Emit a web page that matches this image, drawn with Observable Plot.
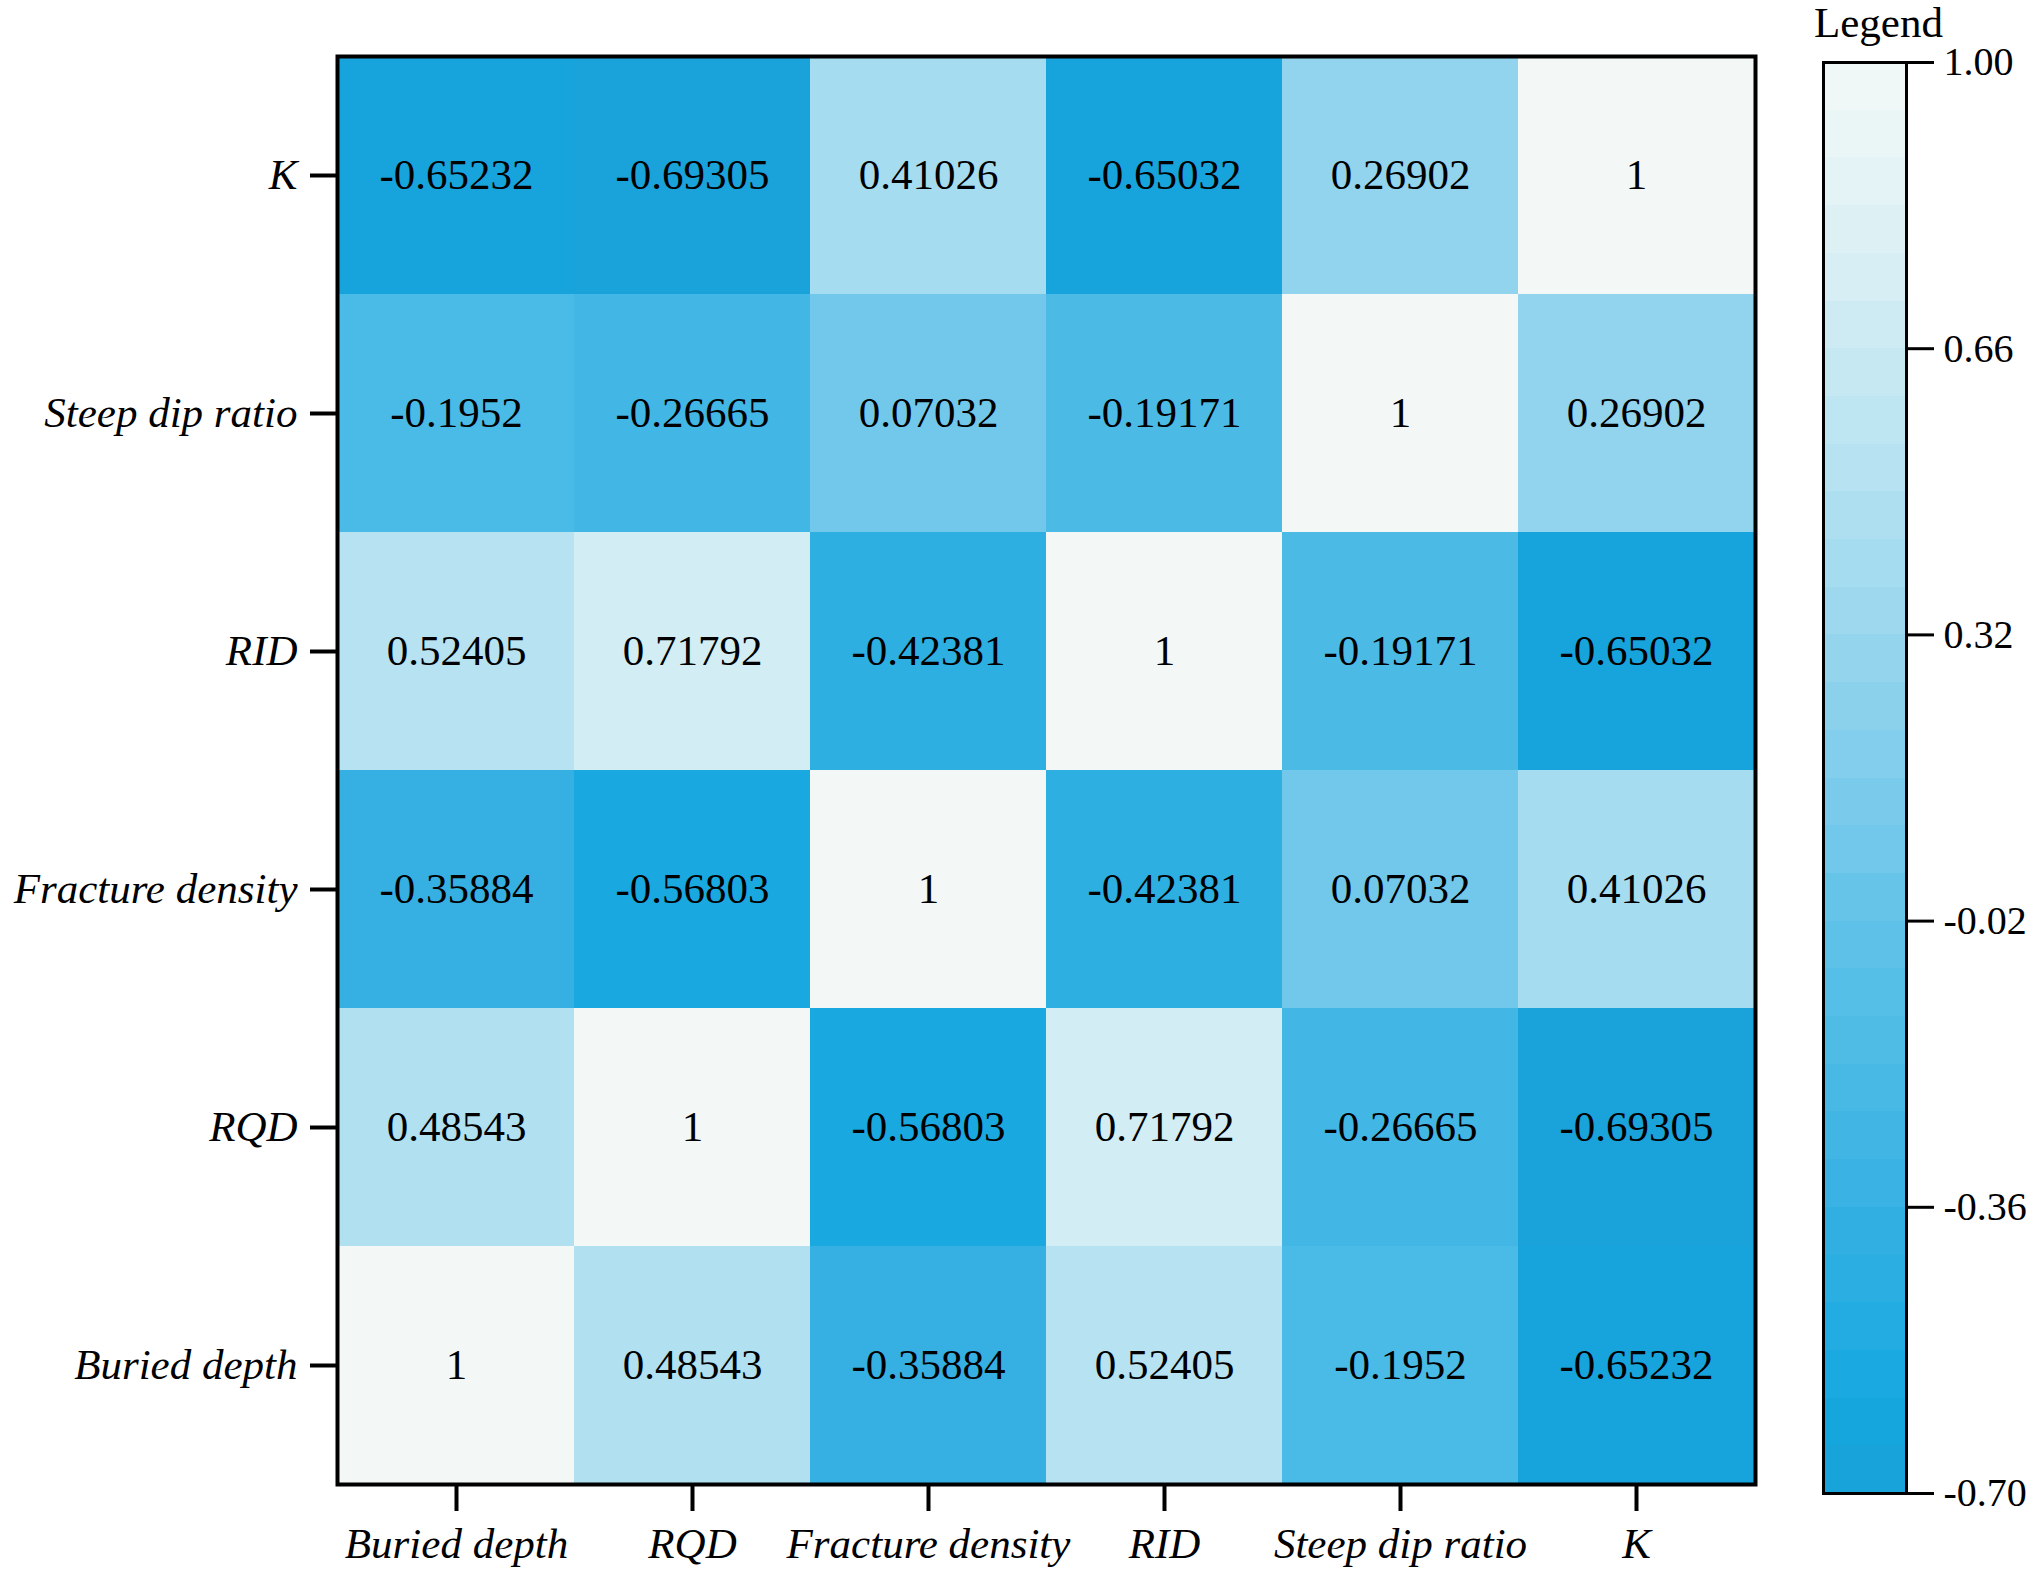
<!DOCTYPE html>
<html>
<head>
<meta charset="utf-8">
<script src="https://cdn.jsdelivr.net/npm/d3@7"></script>
<script src="https://cdn.jsdelivr.net/npm/@observablehq/plot@0.6"></script>
<style>
  html, body { margin: 0; padding: 0; background: #fff; }
  #wrap { position: relative; width: 2027px; height: 1575px; font-family: "Liberation Serif", "Times New Roman", serif; }
  #heat { position: absolute; left: 0; top: 0; }
  #bar { position: absolute; left: 1790px; top: 0; }
  #title { position: absolute; left: 1814px; top: -2px; font-size: 43px; line-height: 50px; color: #000; }
  #heat g[aria-label="x-axis tick label"] text, #heat g[aria-label="y-axis tick label"] text { font-style: italic; }
</style>
</head>
<body>
<div id="wrap">
  <div id="heat"></div>
  <div id="bar"></div>
  <div id="title">Legend</div>
</div>
<script>
// Variables (column order, left to right; row order bottom to top)
const variables = ["Buried depth", "RQD", "Fracture density", "RID", "Steep dip ratio", "K"];

// Correlation rows (one per variable, same order as columns)
const buriedDepth     = [1, 0.48543, -0.35884, 0.52405, -0.1952, -0.65232];
const rqd             = [0.48543, 1, -0.56803, 0.71792, -0.26665, -0.69305];
const fractureDensity = [-0.35884, -0.56803, 1, -0.42381, 0.07032, 0.41026];
const rid             = [0.52405, 0.71792, -0.42381, 1, -0.19171, -0.65032];
const steepDipRatio   = [-0.1952, -0.26665, 0.07032, -0.19171, 1, 0.26902];
const kRow            = [-0.65232, -0.69305, 0.41026, -0.65032, 0.26902, 1];

// Legend
const legendTicks = [1.00, 0.66, 0.32, -0.02, -0.36, -0.70];
const legendSteps = 30;

// Colour stops
const colorDomain = [-0.70, -0.60, -0.45, -0.36, -0.19, -0.02, 0.07, 0.27, 0.41, 0.52, 0.72, 0.86, 1.00];
const colorRange  = ["#1aa2da", "#14a7df", "#2aaee2", "#36b0e2", "#4bbbe6", "#60c2e8", "#72c8ea", "#92d3ed", "#a6dcf0", "#b6e2f1", "#d3edf4", "#e4f3f6", "#f3f8f7"];

const rows = [buriedDepth, rqd, fractureDensity, rid, steepDipRatio, kRow];
const cells = [];
rows.forEach((r, i) => r.forEach((v, j) => cells.push({row: variables[i], col: variables[j], value: v})));

const colorScale = {type: "linear", domain: colorDomain, range: colorRange, interpolate: "rgb", clamp: true};

const heat = Plot.plot({
  width: 1790,
  height: 1575,
  marginLeft: 337,
  marginRight: 35,
  marginTop: 56,
  marginBottom: 91,
  style: {fontFamily: "'Liberation Serif', 'Times New Roman', serif", fontSize: "43px", color: "#000", background: "#fff"},
  x: {domain: variables, padding: 0, label: null},
  y: {domain: variables.slice().reverse(), padding: 0, label: null},
  color: colorScale,
  marks: [
    Plot.cell(cells, {x: "col", y: "row", fill: "value", shapeRendering: "crispEdges"}),
    Plot.text(cells, {x: "col", y: "row", text: d => String(d.value), fill: "#000", fontSize: 43}),
    Plot.axisX({tickSize: 27, tickPadding: 16, strokeWidth: 4, fontSize: 43, label: null}),
    Plot.axisY({tickSize: 27, tickPadding: 13, strokeWidth: 4, fontSize: 43, label: null}),
    Plot.frame({stroke: "#000", strokeWidth: 4})
  ]
});
document.getElementById("heat").appendChild(heat);

const step = (legendTicks[0] - legendTicks[legendTicks.length - 1]) / legendSteps;
const bands = d3.range(legendSteps).map(i => {
  const y1 = legendTicks[legendTicks.length - 1] + i * step;
  return {y1, y2: y1 + step, mid: y1 + step / 2};
});

const bar = Plot.plot({
  width: 237,
  height: 1575,
  marginLeft: 33,
  marginRight: 121,
  marginTop: 62,
  marginBottom: 82,
  style: {fontFamily: "'Liberation Serif', 'Times New Roman', serif", fontSize: "40px", color: "#000", background: "transparent"},
  y: {domain: [legendTicks[legendTicks.length - 1], legendTicks[0]], label: null},
  color: colorScale,
  marks: [
    Plot.rect(bands, {y1: "y1", y2: "y2", fill: "mid", shapeRendering: "crispEdges"}),
    Plot.axisY({anchor: "right", ticks: legendTicks, tickFormat: d => d.toFixed(2), tickSize: 27, tickPadding: 10, strokeWidth: 3, fontSize: 40, label: null}),
    Plot.frame({stroke: "#000", strokeWidth: 3})
  ]
});
document.getElementById("bar").appendChild(bar);
</script>
</body>
</html>
